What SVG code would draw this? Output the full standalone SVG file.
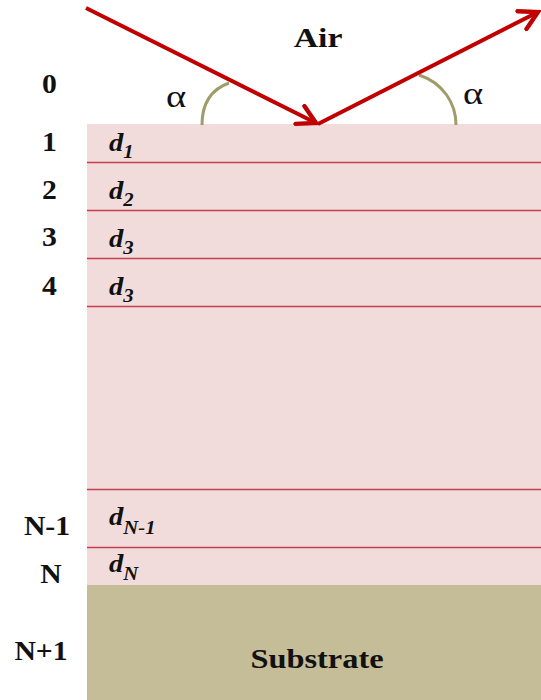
<svg xmlns="http://www.w3.org/2000/svg" width="541" height="700" viewBox="0 0 541 700">
<style>
text{font-family:"Liberation Serif","DejaVu Serif","Times New Roman",serif;fill:#111}
.num{font-weight:bold;font-size:27px;text-anchor:middle}
.d{font-weight:bold;font-style:italic;font-size:25px}
.sub{font-size:18px}
.sep{stroke:#c0404c;stroke-width:1.5}
.ray{stroke:#c00000;stroke-width:4;fill:none}
.arc{stroke:#a09c6a;stroke-width:3;fill:none}
.greek{font-size:32px}
</style>
<defs>
<marker id="ah" viewBox="0 0 12 12" refX="10" refY="6" markerWidth="6" markerHeight="6" markerUnits="strokeWidth" orient="auto">
<path d="M1,1 L10,6 L1,11" fill="none" stroke="#c00000" stroke-width="2.2" stroke-linecap="round"/>
</marker>
</defs>
<rect width="541" height="700" fill="#ffffff"/>
<g id="layers">
<rect x="87" y="124" width="454" height="461" fill="#f2dcdb"/>
<line class="sep" x1="87" y1="162.5" x2="541" y2="162.5"/>
<line class="sep" x1="87" y1="210.5" x2="541" y2="210.5"/>
<line class="sep" x1="87" y1="258.5" x2="541" y2="258.5"/>
<line class="sep" x1="87" y1="306.5" x2="541" y2="306.5"/>
<line class="sep" x1="87" y1="489.5" x2="541" y2="489.5"/>
<line class="sep" x1="87" y1="547.5" x2="541" y2="547.5"/>
</g>
<g id="substrate">
<rect x="87" y="585" width="454" height="115" fill="#c4bd97"/>
<text class="num" transform="translate(317,668) scale(1.2,1)">Substrate</text>
</g>
<g id="labels">
<text class="num" transform="translate(318,47) scale(1.25,1)">Air</text>
<text class="num" transform="translate(49.5,93) scale(1.1,1)">0</text>
<text class="num" transform="translate(49.5,151) scale(1.1,1)">1</text>
<text class="num" transform="translate(49.5,199) scale(1.1,1)">2</text>
<text class="num" transform="translate(49.5,246) scale(1.1,1)">3</text>
<text class="num" transform="translate(49.5,295) scale(1.1,1)">4</text>
<text class="num" transform="translate(47,535) scale(1.1,1)">N-1</text>
<text class="num" transform="translate(51,583) scale(1.1,1)">N</text>
<text class="num" transform="translate(41,660) scale(1.1,1)">N+1</text>
<text class="d" transform="translate(109,151) scale(1.15,1)">d<tspan class="sub" dy="7">1</tspan></text>
<text class="d" transform="translate(109,199) scale(1.15,1)">d<tspan class="sub" dy="7">2</tspan></text>
<text class="d" transform="translate(109,247) scale(1.15,1)">d<tspan class="sub" dy="7">3</tspan></text>
<text class="d" transform="translate(109,295) scale(1.15,1)">d<tspan class="sub" dy="7">3</tspan></text>
<text class="d" transform="translate(109,525) scale(1.15,1)">d<tspan class="sub" dy="9">N-1</tspan></text>
<text class="d" transform="translate(109,572) scale(1.15,1)">d<tspan class="sub" dy="8">N</tspan></text>
<text class="greek" transform="translate(166,107) scale(1.2,1)">α</text>
<text class="greek" transform="translate(463,104) scale(1.2,1)">α</text>
</g>
<g id="connectors">
<path class="arc" d="M202,125 C202,103 212,89 229,83"/>
<path class="arc" d="M456,125 C456,103 443,83 419,75"/>
<line class="ray" x1="86" y1="8" x2="316" y2="123" marker-end="url(#ah)"/>
<line class="ray" x1="318" y1="124" x2="538" y2="12" marker-end="url(#ah)"/>
</g>
</svg>
